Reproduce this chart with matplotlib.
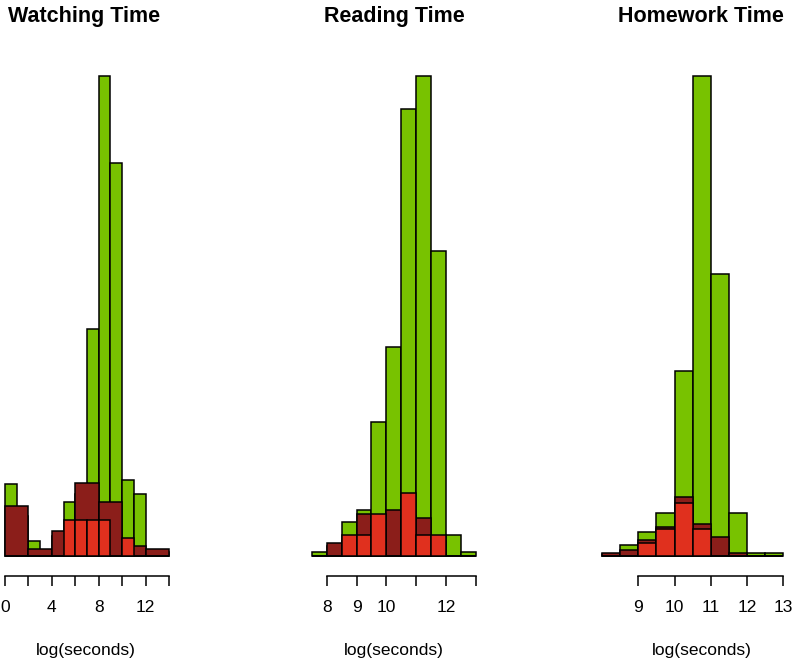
import matplotlib.pyplot as plt

# R style histograms: green = all, dark red and red = subsets
plt.rcParams['font.family'] = ['Liberation Sans', 'DejaVu Sans']

GREEN = '#78C200'
DARK = '#8B1E1A'
RED = '#E0301E'

titles = ['Watching Time', 'Reading Time', 'Homework Time']

# Watching time (log seconds)
watch_green_start = [0, 1, 2, 3, 4, 5, 6, 7, 8, 9, 10, 11, 12, 13]
watch_green = [72, 40, 15, 5, 20, 54, 62, 227, 480, 393, 76, 62, 5, 4]
watch_dark_start = [0, 2, 4, 6, 8, 10, 12]
watch_dark = [50, 7, 25, 73, 54, 10, 7]
watch_red = [0, 0, 0, 0, 0, 36, 36, 36, 36, 0, 18, 0, 0, 0]
watch_ticks = [0, 2, 4, 6, 8, 10, 12, 14]
watch_labels = ['0', '', '4', '', '8', '', '12', '']

# Reading time
read_start = [7.5, 8, 8.5, 9, 9.5, 10, 10.5, 11, 11.5, 12, 12.5]
read_green = [4, 10, 34, 46, 134, 209, 447, 480, 305, 21, 4]
read_dark = [0, 13, 15, 42, 30, 46, 40, 38, 15, 0, 0]
read_red = [0, 0, 21, 21, 42, 0, 63, 21, 21, 0, 0]
read_ticks = [8, 9, 10, 11, 12, 13]
read_labels = ['8', '9', '10', '', '12', '']

# Homework time
home_start = [8, 8.5, 9, 9.5, 10, 10.5, 11, 11.5, 12, 12.5]
home_green = [2, 11, 24, 43, 185, 480, 282, 43, 3, 3]
home_dark = [3, 6, 16, 29, 59, 32, 19, 3, 0, 0]
home_red = [0, 0, 13, 27, 53, 27, 0, 0, 0, 0]
home_ticks = [9, 10, 11, 12, 13]
home_labels = ['9', '10', '11', '12', '13']

W, H = 795, 662
fig = plt.figure(figsize=(W / 100, H / 100), dpi=100)

# pixel layout of each panel: left, right, x value at ref pixel, ref pixel, px per unit
layout = [(0, 180, 0, 5, 11.72),
          (300, 490, 8, 326.7, 29.86),
          (595, 795, 9, 638.3, 36.25)]

panels = [
    (watch_green_start, watch_green, 1, watch_dark_start, watch_dark, 2,
     watch_green_start, watch_red, 1, watch_ticks, watch_labels),
    (read_start, read_green, 0.5, read_start, read_dark, 0.5,
     read_start, read_red, 0.5, read_ticks, read_labels),
    (home_start, home_green, 0.5, home_start, home_dark, 0.5,
     home_start, home_red, 0.5, home_ticks, home_labels),
]

title_x = [84, 394, 701]
xlab_x = [86, 394, 702]
top_px, bot_px = 40, 560

for i, p in enumerate(panels):
    gs, gv, gw, ds, dv, dw, rs, rv, rw, ticks, labels = p
    left, right, v0, p0, s = layout[i]
    ax = fig.add_axes([left / W, 1 - bot_px / H, (right - left) / W, (bot_px - top_px) / H])
    ax.bar(gs, gv, width=gw, align='edge', color=GREEN, edgecolor='black', linewidth=1.1)
    ax.bar(ds, dv, width=dw, align='edge', color=DARK, edgecolor='black', linewidth=1.1)
    ax.bar(rs, rv, width=rw, align='edge', color=RED, edgecolor='black', linewidth=1.1)
    ax.set_xlim(v0 + (left - p0) / s, v0 + (right - p0) / s)
    ax.set_ylim(-(bot_px - 556), 556 - top_px)
    for side in ['top', 'right', 'left']:
        ax.spines[side].set_visible(False)
    ax.spines['bottom'].set_position(('data', -19.7))
    ax.spines['bottom'].set_bounds(ticks[0], ticks[-1])
    ax.spines['bottom'].set_linewidth(1.1)
    ax.set_yticks([])
    ax.set_xticks(ticks)
    ax.set_xticklabels(labels)
    ax.tick_params(axis='x', length=7.2, width=1.1, pad=10, labelsize=12.5)
    fig.text(title_x[i] / W, 1 - 22 / H, titles[i], ha='center', va='baseline',
             fontsize=15.5, fontweight='bold')
    fig.text(xlab_x[i] / W, 1 - 650 / H, 'log(seconds)', ha='center', va='center',
             fontsize=12.5)

plt.savefig('out.png', dpi=100)
